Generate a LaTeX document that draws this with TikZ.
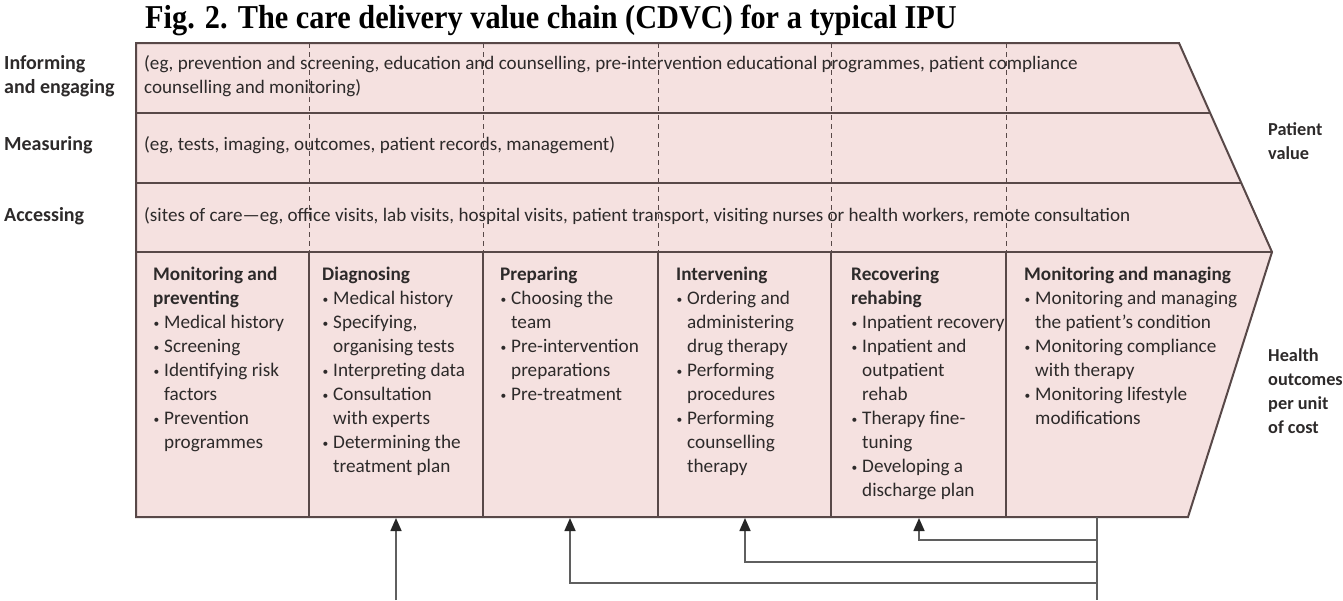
\documentclass[tikz,border=0pt]{standalone}
\usepackage{graphicx}
\usepackage{fontspec}
\setmainfont{Carlito}
\newfontfamily\titlefont{Liberation Serif}
\usetikzlibrary{arrows.meta,calc}
\definecolor{chainfill}{RGB}{245,225,224}
\definecolor{chainline}{RGB}{88,72,72}
\definecolor{chaintext}{RGB}{45,42,42}
\definecolor{linkgray}{RGB}{95,95,95}
% small bullet and hanging indent for the activity lists
\newcommand\bl{\makebox[11pt][l]{\hspace{0.5pt}\raisebox{1.2pt}{\scalebox{0.6}{•}}}}
\newcommand\hi{\hspace*{11pt}}

\begin{document}
\begin{tikzpicture}[x=1pt,y=-1pt,
  txt/.style={inner sep=0pt, text=chaintext},
  rowtext/.style={txt, anchor=base west, font=\fontsize{19.1}{24}\selectfont},
  rowblock/.style={txt, anchor=north west, align=left, font=\fontsize{19.1}{24}\selectfont},
  sidelabel/.style={txt, anchor=base west, font=\fontsize{20}{24}\selectfont\bfseries},
  sideblock/.style={txt, anchor=north west, align=left, font=\fontsize{20}{24}\selectfont\bfseries},
  outblock/.style={txt, anchor=north west, align=left, font=\fontsize{18.3}{24}\selectfont\bfseries},
  coltext/.style={txt, anchor=north west, align=left, font=\fontsize{19.2}{24}\selectfont},
  divider/.style={chainline, line width=1.6pt},
  guide/.style={chainline, line width=0.8pt, dash pattern=on 5pt off 4pt},
  feed/.style={linkgray, line width=1.6pt},
  feedarrow/.style={feed, -{Triangle[length=13pt,width=11pt,color=black!85]}}
]
\useasboundingbox (0,0) rectangle (1343,600);

% outline of the chevron
\coordinate (tl) at (136,43);
\coordinate (tr) at (1179,43);
\coordinate (tip) at (1272,252);
\coordinate (br) at (1188,517);
\coordinate (botl) at (136,517);
\fill[chainfill] (tl) -- (tr) -- (tip) -- (br) -- (botl) -- cycle;

% support activity rows
\draw[divider] (136,113) -- ($(tr)!0.335!(tip)$);
\draw[divider] (136,183) -- ($(tr)!0.670!(tip)$);
\draw[divider] (136,252) -- (tip);

% stage columns: dashed through the rows, solid in the lower band
\foreach \cx in {309,483,658,831,1006}{
  \draw[guide] (\cx,43) -- (\cx,252);
  \draw[divider] (\cx,252) -- (\cx,517);
}
\draw[chainline, line width=2pt, line join=miter] (tl) -- (tr) -- (tip) -- (br) -- (botl) -- cycle;

% title
\node[font=\titlefont\fontsize{30.3}{36}\selectfont\bfseries, anchor=base, inner sep=0pt] (title) at (551,28)
  {\scalebox{1}[1.1]{Fig. 2. The care delivery value chain (CDVC) for a typical IPU}};

% row labels
\node[sideblock] (labinform) at (4,52.2) {\strut Informing\\and engaging};
\node[sidelabel] (labmeasure) at (4,150) {Measuring};
\node[sidelabel] (labaccess) at (4,221) {Accessing};

% row contents
\node[rowblock] (rowinform) at (144,52.2) {\strut(eg, prevention and screening, education and counselling, pre-intervention educational programmes, patient compliance\\counselling and monitoring)};
\node[rowtext] (rowmeasure) at (144,150) {(eg, tests, imaging, outcomes, patient records, management)};
\node[rowtext] (rowaccess) at (144,221) {(sites of care—eg, office visits, lab visits, hospital visits, patient transport, visiting nurses or health workers, remote consultation};

% outcome labels
\node[outblock] (labvalue) at (1268,118.2) {\strut Patient\\value};
\node[outblock] (labhealth) at (1268,344.2) {\strut Health\\outcomes\\per unit\\of cost};

% stage columns
\node[coltext] (colmonitor) at (153,263.2) {\strut\textbf{Monitoring and}\\\textbf{preventing}\\\bl Medical history\\\bl Screening\\\bl Identifying risk\\\hi factors\\\bl Prevention\\\hi programmes};
\node[coltext] (coldiag) at (322,263.2) {\strut\textbf{Diagnosing}\\\bl Medical history\\\bl Specifying,\\\hi organising tests\\\bl Interpreting data\\\bl Consultation\\\hi with experts\\\bl Determining the\\\hi treatment plan};
\node[coltext] (colprep) at (500,263.2) {\strut\textbf{Preparing}\\\bl Choosing the\\\hi team\\\bl Pre-intervention\\\hi preparations\\\bl Pre-treatment};
\node[coltext] (colinterv) at (676,263.2) {\strut\textbf{Intervening}\\\bl Ordering and\\\hi administering\\\hi drug therapy\\\bl Performing\\\hi procedures\\\bl Performing\\\hi counselling\\\hi therapy};
\node[coltext] (colrecov) at (851,263.2) {\strut\textbf{Recovering}\\\textbf{rehabing}\\\bl Inpatient recovery\\\bl Inpatient and\\\hi outpatient\\\hi rehab\\\bl Therapy fine-\\\hi tuning\\\bl Developing a\\\hi discharge plan};
\node[coltext] (colmanage) at (1024,263.2) {\strut\textbf{Monitoring and managing}\\\bl Monitoring and managing\\\hi the patient’s condition\\\bl Monitoring compliance\\\hi with therapy\\\bl Monitoring lifestyle\\\hi modifications};

% feedback from monitoring and managing to earlier stages
\coordinate (in2) at (396,518);
\coordinate (in3) at (570,518);
\coordinate (in4) at (745,518);
\coordinate (in5) at (919,518);
\coordinate (trunktop) at (1097,517);
\coordinate (trunkbot) at (1097,600);
\coordinate (j3) at (1097,583);
\coordinate (j4) at (1097,562);
\coordinate (j5) at (1097,540);
\coordinate (s2) at (396,600);
\draw[feed] (trunktop) -- (trunkbot);
\draw[feedarrow] (j5) -| (in5);
\draw[feedarrow] (j4) -| (in4);
\draw[feedarrow] (j3) -| (in3);
\draw[feedarrow] (s2) -- (in2);
\end{tikzpicture}
\end{document}
